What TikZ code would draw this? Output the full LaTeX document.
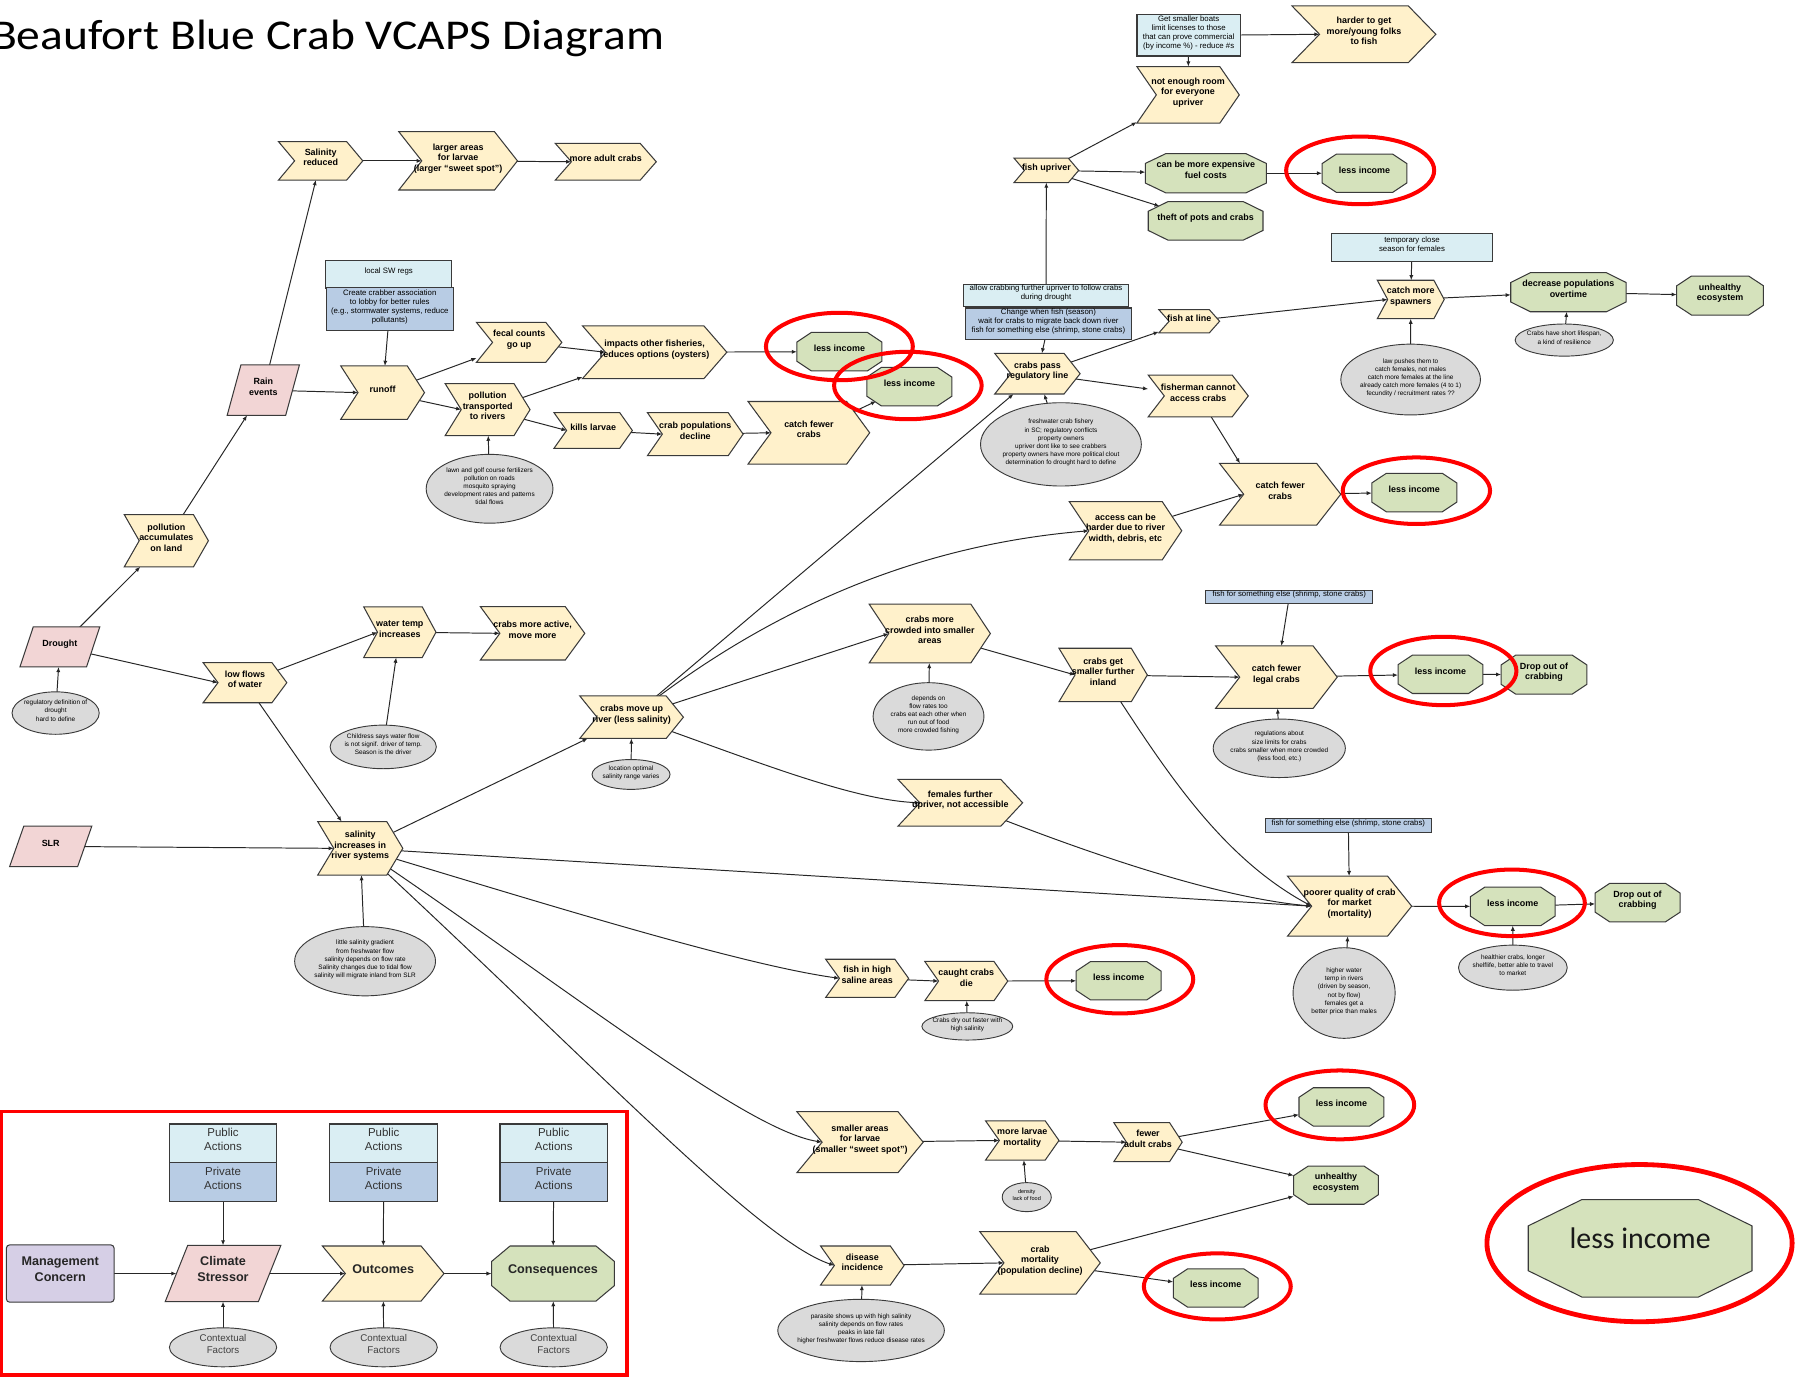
\documentclass[tikz,border=0pt]{standalone}
\usepackage{fontspec}
\setmainfont{Liberation Sans}
\newfontfamily\calib{Carlito}
\usetikzlibrary{arrows.meta,shapes.geometric}
\pgfdeclarelayer{bg}
\pgfdeclarelayer{lines}
\pgfdeclarelayer{shapes}
\pgfsetlayers{bg,lines,shapes,main}

\definecolor{chevfill}{HTML}{FFF1CB}
\definecolor{octfill}{HTML}{D5E2BC}
\definecolor{parafill}{HTML}{F2D5D5}
\definecolor{ellfill}{HTML}{DADADA}
\definecolor{pubfill}{HTML}{DAEEF3}
\definecolor{privfill}{HTML}{B8CCE4}
\definecolor{mcfill}{HTML}{D6CFE6}
\definecolor{edge}{HTML}{3A3A3A}
\definecolor{ringred}{HTML}{FF0000}

\newcommand{\mytx}[1]{\smash{\makebox[0pt]{\begin{tabular}{@{}c@{}}#1\end{tabular}}}}
\newcommand{\lgfont}{\fontsize{11}{13.9}\selectfont\bfseries}

\tikzset{
 shp/.style={draw=edge, line width=0.9pt, line join=miter},
 chevsty/.style={shp, fill=chevfill},
 octsty/.style={shp, fill=octfill},
 parasty/.style={shp, fill=parafill},
 lbl/.style={shape=rectangle, inner sep=0pt, outer sep=0pt, font=\fontsize{7.8}{9.2}\selectfont\bfseries},
 ell/.style={ellipse, draw=edge, line width=0.8pt, fill=ellfill, inner sep=0pt, outer sep=0pt, font=\fontsize{5.6}{7.1}\selectfont},
 pubbox/.style={rectangle, draw=edge, line width=0.9pt, fill=pubfill, inner sep=0pt, outer sep=0pt, font=\fontsize{6.8}{7.8}\selectfont},
 privbox/.style={pubbox, fill=privfill},
 conn/.style={draw=black!85, line width=0.85pt, -{Latex[length=4.5pt,width=3.6pt]}},
 ring/.style={draw=ringred, line width=3.5pt},
}

% chevron: [opts]{name}{x}{y}{w}{h}{d}{text}
\newcommand{\mychev}[8][]{%
 \begin{pgfonlayer}{shapes}
 \path[chevsty] ({#3-(#5)/2},{#4-(#6)/2}) -- ({#3+(#5)/2-(#7)},{#4-(#6)/2}) -- ({#3+(#5)/2},{#4}) -- ({#3+(#5)/2-(#7)},{#4+(#6)/2}) -- ({#3-(#5)/2},{#4+(#6)/2}) -- ({#3-(#5)/2+(#7)},{#4}) -- cycle;
 \end{pgfonlayer}
 \node[lbl, minimum width=#5, minimum height=#6, #1] (#2) at (#3,#4) {\mytx{#8}};
 \coordinate (#2-in) at ({#3-(#5)/2+(#7)},{#4});
}
% octagon: [opts]{name}{x}{y}{w}{h}{cx}{cy}{text}
\newcommand{\myocta}[9][]{%
 \begin{pgfonlayer}{shapes}
 \path[octsty] ({#3-(#5)/2+(#5)*(#7)},{#4-(#6)/2}) -- ({#3+(#5)/2-(#5)*(#7)},{#4-(#6)/2}) -- ({#3+(#5)/2},{#4-(#6)/2+(#6)*(#8)}) -- ({#3+(#5)/2},{#4+(#6)/2-(#6)*(#8)}) -- ({#3+(#5)/2-(#5)*(#7)},{#4+(#6)/2}) -- ({#3-(#5)/2+(#5)*(#7)},{#4+(#6)/2}) -- ({#3-(#5)/2},{#4+(#6)/2-(#6)*(#8)}) -- ({#3-(#5)/2},{#4-(#6)/2+(#6)*(#8)}) -- cycle;
 \end{pgfonlayer}
 \node[lbl, minimum width=#5, minimum height=#6, #1] (#2) at (#3,#4) {\mytx{#9}};
}
% parallelogram: [opts]{name}{x}{y}{w}{h}{s}{text}
\newcommand{\mypara}[8][]{%
 \begin{pgfonlayer}{shapes}
 \path[parasty] ({#3-(#5)/2},{#4+(#6)/2}) -- ({#3-(#5)/2+(#7)},{#4-(#6)/2}) -- ({#3+(#5)/2},{#4-(#6)/2}) -- ({#3+(#5)/2-(#7)},{#4+(#6)/2}) -- cycle;
 \end{pgfonlayer}
 \node[lbl, minimum width=#5, minimum height=#6, #1] (#2) at (#3,#4) {\mytx{#8}};
 \coordinate (#2-in) at ({#3-(#5)/2+(#7)/2},{#4});
}
\newcommand{\myli}[3]{\myocta{#1}{#2}{#3}{74}{33.5}{0.17}{0.25}{less income}}

\begin{document}
\begin{tikzpicture}[x=1pt,y=-1pt]
\useasboundingbox (0,0) rectangle (1568,1200);
\begin{pgfonlayer}{bg}
\fill[white] (0,0) rectangle (1568,1200);
\end{pgfonlayer}

% title
\node[anchor=base west, inner sep=0pt, font=\calib\fontsize{37}{40}\selectfont, xscale=1.12] (title) at (-8,43.5) {Beaufort Blue Crab VCAPS Diagram};

% ---------- top-left ----------
\mychev{salred}{279.5}{140.2}{73.4}{33.4}{14}{Salinity\\reduced}
\mychev{larger}{399.3}{140.2}{103.4}{50.8}{20}{larger areas\\for larvae\\(larger “sweet spot”)}
\mychev{moreadult}{528}{141}{88}{32}{14}{more adult crabs}
\mypara{rain}{229.5}{340}{63}{44}{12}{Rain\\events}
\mychev{polacc}{145}{471.3}{73.3}{45.4}{13}{pollution\\accumulates\\on land}
\mypara{drought}{52.2}{563.8}{69.6}{35}{11.6}{Drought}
\node[ell, minimum width=76, minimum height=37] (droughtell) at (48.5,621.5) {\mytx{regulatory definition of\\drought\\hard to define}};
\node[pubbox, minimum width=109.6, minimum height=24] (localsw) at (338.8,239) {\mytx{local SW regs}};
\node[privbox, minimum width=111, minimum height=36.7] (crabber) at (339.7,269.3) {\mytx{Create  crabber  association\\to lobby for better rules\\(e.g., stormwater systems, reduce\\pollutants)}};
\mychev{runoff}{333.5}{342.2}{73}{46.5}{15}{runoff}
\mychev{fecal}{452.5}{298.4}{74.4}{34.8}{14}{fecal counts\\go up}
\mychev{poltrans}{425}{357}{74}{45.3}{14}{pollution\\transported\\to rivers}
\node[ell, minimum width=110.5, minimum height=60] (lawnell) at (426.7,426) {\mytx{lawn and golf course fertilizers\\pollution on roads\\mosquito spraying\\development rates and patterns\\tidal flows}};
\mychev{impacts}{570.6}{307}{125.8}{46}{20}{impacts  other  fisheries,\\reduces options (oysters)}
\myli{li1}{731.6}{306.5}
\myli{li2}{792.6}{337}
\mychev{kills}{517}{375.2}{68.3}{31.1}{11}{kills larvae}
\mychev{croppop}{606}{378.4}{83.4}{37.5}{13}{crab populations\\decline}
\mychev{catch1}{705}{377.2}{106}{54.5}{20}{catch fewer\\crabs}

% ---------- middle-left ----------
\mychev{watertemp}{348.5}{551}{63}{44.2}{12}{water  temp\\increases}
\mychev{active}{464.2}{552}{91}{46.5}{17}{crabs more active,\\move more}
\node[ell, minimum width=92.6, minimum height=38] (childell) at (334,651) {\mytx{Childress says water flow\\is not signif. driver of temp.\\Season is the driver}};
\mychev{lowflows}{213.5}{595}{73}{35}{13}{low flows\\of water}
\mypara{slr}{44.2}{737.7}{71.7}{35.4}{12.4}{SLR}
\mychev{salinc}{314}{739.4}{74.2}{46.7}{14}{salinity\\increases in\\river systems}
\node[ell, minimum width=122.8, minimum height=60.3] (salell) at (318.2,837.8) {\mytx{little salinity gradient\\from freshwater flow\\salinity depends on flow rate\\Salinity changes due to tidal flow\\salinity will migrate inland from SLR}};
\mychev{movesup}{550.5}{625.1}{90.3}{37}{15}{crabs move up\\river (less salinity)}
\node[ell, minimum width=68, minimum height=26] (locell) at (550,675) {\mytx{location  optimal\\salinity range varies}};

% ---------- upper middle / right ----------
\mychev{pass}{904.2}{325.7}{74.4}{35.4}{14}{crabs pass\\regulatory line}
\node[pubbox, minimum width=144.5, minimum height=19.7] (allowbox) at (911.7,257.5) {\mytx{allow crabbing further upriver to follow crabs\\during drought}};
\node[privbox, minimum width=145, minimum height=27.5] (changebox) at (913.8,282.2) {\mytx{Change when fish (season)\\wait for crabs to migrate back down river\\fish for something else (shrimp, stone crabs)}};
\node[ell, minimum width=140.2, minimum height=72.6] (freshell) at (924.7,387.3) {\mytx{freshwater crab fishery\\in SC; regulatory conflicts\\property owners\\upriver dont like to see crabbers\\property owners have more political clout\\determination fo drought hard to define}};
\mychev{fishline}{1036.5}{280}{53}{20.3}{9}{fish at line}
\mychev{spawners}{1229.6}{261}{58.3}{33.5}{9}{catch more\\spawners}
\node[pubbox, minimum width=140, minimum height=24] (tempbox) at (1230.7,215.5) {\mytx{temporary  close\\season for females}};
\node[ell, minimum width=121.7, minimum height=61.7] (lawell) at (1229.5,330.8) {\mytx{law pushes them to\\catch females, not males\\catch more females at the line\\already catch more females (4 to 1)\\fecundity / recruitment rates ??}};
\myocta{decrease}{1367}{254.7}{100.5}{34}{0.17}{0.25}{decrease populations\\overtime}
\node[ell, minimum width=85.6, minimum height=28] (shortell) at (1363.4,296.4) {\mytx{Crabs have short lifespan,\\a kind of resilience}};
\myocta{unh1}{1499.2}{257.6}{75.6}{34}{0.17}{0.25}{unhealthy\\ecosystem}
\node[pubbox, minimum width=90, minimum height=35.8] (gsb) at (1036,30.9) {\mytx{Get smaller boats\\limit licenses to those\\that can prove commercial\\(by income \%) - reduce \#s}};
\mychev{harder}{1188.8}{29.9}{125.4}{49.4}{24}{harder to get\\more/young folks\\to fish}
\mychev{notenough}{1035.5}{82.7}{89.3}{49.4}{17}{not enough room\\for everyone\\upriver}
\mychev{fishup}{912}{148.5}{56.3}{21.2}{9}{fish upriver}
\myocta{fuel}{1051}{151}{105.4}{34.3}{0.17}{0.25}{can be more expensive\\fuel costs}
\myli{li3}{1189.3}{151}
\myocta{theft}{1050.8}{192.5}{100}{33.4}{0.17}{0.25}{theft of pots and crabs}
\mychev{fisherman}{1044.4}{345.1}{87.2}{36.3}{14}{fisherman cannot\\access crabs}
\mychev{catch2}{1115.8}{430.8}{105.6}{53.7}{21}{catch fewer\\crabs}
\myli{li4}{1232.7}{429.3}
\mychev{access}{981}{462.6}{98}{50.7}{17}{access can be\\harder due to river\\width, debris, etc}

% ---------- middle ----------
\mychev{crowded}{810.4}{552.2}{105.6}{51.2}{17}{crabs  more\\crowded into smaller\\areas}
\node[ell, minimum width=96.6, minimum height=58.8] (depell) at (809.3,624.4) {\mytx{depends  on\\flow rates too\\crabs eat each other when\\run out of food\\more crowded fishing}};
\mychev{getsmaller}{961.5}{588.3}{77}{46.6}{14}{crabs  get\\smaller further\\inland}
\node[privbox, minimum width=145.5, minimum height=11.7] (boxfs1) at (1123.7,520.2) {\mytx{fish for something else (shrimp, stone crabs)}};
\mychev{catchlegal}{1112.5}{590.2}{106}{54.4}{21}{catch fewer\\legal crabs}
\node[ell, minimum width=115.2, minimum height=51] (regell) at (1115,652.2) {\mytx{regulations about\\size limits for crabs\\crabs smaller when more crowded\\(less food, etc.)}};
\myli{li5}{1255.5}{587.7}
\myocta{drop1}{1345.7}{588}{74.6}{34}{0.17}{0.25}{Drop  out  of\\crabbing}
\mychev{females}{837}{699.7}{108.6}{40.7}{19}{females  further\\upriver, not accessible}
\node[privbox, minimum width=145, minimum height=12.5] (boxfs2) at (1175.2,719.6) {\mytx{fish for something else (shrimp, stone crabs)}};
\mychev{poorer}{1176.3}{789.8}{108.2}{52.3}{21}{poorer quality of crab\\for market\\(mortality)}
\node[ell, minimum width=89, minimum height=79] (higherell) at (1171.5,865.5) {\mytx{higher  water\\temp in rivers\\(driven by season,\\not by flow)\\females  get a\\better price than males}};
\myli{li6}{1318.5}{790}
\myocta{drop2}{1427.3}{786.7}{74}{33.4}{0.17}{0.25}{Drop  out  of\\crabbing}
\node[ell, minimum width=94.8, minimum height=39.3] (healthell) at (1318.6,843.4) {\mytx{healthier crabs, longer\\shelflife, better able to travel\\to market}};

% ---------- bottom ----------
\mychev{fishhigh}{755.8}{852.7}{72.3}{33.3}{12}{fish  in  high\\saline  areas}
\mychev{caught}{842.2}{855.1}{72.3}{34.2}{12}{caught crabs\\die}
\myli{li7}{975}{854.8}
\node[ell, minimum width=79.2, minimum height=23.8] (dryell) at (843.1,894.6) {\mytx{Crabs dry out faster with\\high salinity}};
\mychev{smaller}{749.6}{995.5}{110.1}{53.2}{22}{smaller areas\\for larvae\\(smaller “sweet spot”)}
\mychev{morelarvae}{891}{994}{64}{34.2}{12}{more  larvae\\mortality}
\node[ell, minimum width=42.8, minimum height=25.3, font=\fontsize{4.8}{6}\selectfont] (densell) at (894.9,1043.4) {\mytx{density\\lack of food}};
\mychev{fewer}{1000.6}{995.5}{59.6}{34}{11}{fewer\\adult crabs}
\myli{li8}{1169.2}{964.8}
\myocta{unh2}{1164.5}{1033}{73.9}{33.2}{0.17}{0.25}{unhealthy\\ecosystem}
\mychev{disease}{751.6}{1103}{72.8}{34}{12}{disease\\incidence}
\node[ell, minimum width=145.2, minimum height=54.3] (parell) at (750.5,1159.6) {\mytx{parasite shows up with high salinity\\salinity depends on flow rates\\peaks in late fall\\higher freshwater flows reduce disease rates}};
\mychev{crabmort}{906.5}{1100.7}{105}{54.3}{21}{crab\\mortality\\(population decline)}
\myli{li9}{1059.6}{1122.6}

% ---------- legend ----------
\node[rectangle, rounded corners=3pt, draw=edge, line width=0.9pt, fill=mcfill, minimum width=94, minimum height=50, inner sep=0pt, text=black!85, font=\lgfont] (mc) at (52.5,1110) {\mytx{Management\\Concern}};
\mypara[font=\lgfont, text=black!85]{cs}{194.4}{1110}{100.8}{49}{19.6}{Climate\\Stressor}
\mychev[font=\lgfont, text=black!85]{out}{334}{1110}{106}{48}{20}{Outcomes}
\myocta[font=\lgfont, text=black!85]{cons}{482}{1110}{107}{48}{0.15}{0.28}{Consequences}
\foreach \k/\xx in {1/194.4,2/334.4,3/482.6}{
 \node[pubbox, minimum width=93.6, minimum height=33.7, font=\fontsize{10}{12.2}\selectfont, text=black!80] (pub\k) at (\xx,996.5) {\mytx{Public\\Actions}};
 \node[privbox, minimum width=93.6, minimum height=34, font=\fontsize{10}{12.2}\selectfont, text=black!80] (priv\k) at (\xx,1030.4) {\mytx{Private\\Actions}};
 \node[ell, minimum width=93.5, minimum height=34, font=\fontsize{8.5}{10.7}\selectfont, text=black!75] (ctx\k) at (\xx,1174.3) {\mytx{Contextual\\Factors}};
}

% big legend octagon
\myocta[font=\calib\fontsize{26}{30}\selectfont, text=black!90]{bigli}{1429.5}{1088}{195}{85}{0.24}{0.27}{less income}

% ---------- connectors ----------
\begin{pgfonlayer}{lines}
\draw[conn] (salred.center) -- (larger-in);
\draw[conn] (larger.center) -- (moreadult-in);
\draw[conn] (rain.center) -- (salred);
\draw[conn] (polacc.center) -- (rain);
\draw[conn] (drought.center) -- (polacc);
\draw[conn] (drought.center) -- (lowflows-in);
\draw[conn] (droughtell.center) -- (drought);
\draw[conn] (crabber.center) -- (runoff);
\draw[conn] (rain.center) -- (runoff-in);
\draw[conn] (runoff.center) -- (fecal);
\draw[conn] (runoff.center) -- (poltrans-in);
\draw[conn] (lawnell.center) -- (poltrans);
\draw[conn] (fecal.center) -- (impacts-in);
\draw[conn] (poltrans.center) -- (impacts);
\draw[conn] (poltrans.center) -- (kills-in);
\draw[conn] (kills.center) -- (croppop-in);
\draw[conn] (croppop.center) -- (catch1-in);
\draw[conn] (impacts.center) -- (li1);
\draw[conn] (catch1.center) -- ([shift={(8pt,4pt)}]li2.south west);

\draw[conn] (lowflows.center) -- (watertemp-in);
\draw[conn] (watertemp.center) -- (active-in);
\draw[conn] (childell.center) -- (watertemp);
\draw[conn] (lowflows.center) -- (salinc);
\draw[conn] (slr.center) -- (salinc-in);
\draw[conn] (salell.center) -- (salinc);
\draw[conn] (salinc.center) -- (movesup);
\draw[conn] (salinc.center) -- (poorer-in);
\draw[conn] (salinc.center) .. controls (450,780) and (640,840) .. (fishhigh-in);
\draw[conn] (salinc.center) .. controls (500,865) and (650,985) .. (smaller-in);
\draw[conn] (salinc.center) .. controls (520,930) and (660,1080) .. (disease-in);

\draw[conn] (locell.center) -- (movesup);
\draw[conn] (movesup.center) -- (pass);
\draw[conn] (movesup.center) .. controls (670,530) and (800,475) .. (access-in);
\draw[conn] (movesup.center) -- (crowded-in);
\draw[conn] (movesup.center) .. controls (650,660) and (740,697) .. (females-in);
\draw[conn] (depell.center) -- (crowded);
\draw[conn] (crowded.center) -- (getsmaller-in);
\draw[conn] (getsmaller.center) -- (catchlegal-in);
\draw[conn] (getsmaller.center) .. controls (1010,662) and (1060,745) .. (poorer-in);
\draw[conn] (boxfs1.center) -- (catchlegal);
\draw[conn] (regell.center) -- (catchlegal);
\draw[conn] (catchlegal.center) -- (li5);
\draw[conn] (li5.center) -- (drop1);
\draw[conn] (females.center) .. controls (950,745) and (1060,782) .. (poorer-in);
\draw[conn] (boxfs2.center) -- (poorer);
\draw[conn] (higherell.center) -- (poorer);
\draw[conn] (poorer.center) -- (li6);
\draw[conn] (li6.center) -- (drop2);
\draw[conn] (healthell.center) -- (li6);

\draw[conn] (changebox.center) -- (pass);
\draw[conn] (allowbox.center) -- (fishup);
\draw[conn] (freshell.center) -- (pass);
\draw[conn] (pass.center) -- (fishline);
\draw[conn] (pass.center) -- (fisherman);
\draw[conn] (fisherman.center) -- ([xshift=-35pt]catch2.north);
\draw[conn] (access.center) -- (catch2-in);
\draw[conn] (catch2.center) -- (li4);
\draw[conn] (fishline.center) -- (spawners-in);
\draw[conn] (tempbox.center) -- (spawners);
\draw[conn] (lawell.center) -- (spawners);
\draw[conn] (spawners.center) -- (decrease);
\draw[conn] (shortell.center) -- (decrease);
\draw[conn] (decrease.center) -- (unh1);
\draw[conn] (gsb.center) -- (harder-in);
\draw[conn] (gsb.center) -- (notenough);
\draw[conn] (fishup.center) -- (notenough);
\draw[conn] (fishup.center) -- (fuel);
\draw[conn] (fishup.center) -- ([shift={(10pt,-4pt)}]theft.north west);
\draw[conn] (fuel.center) -- (li3);

\draw[conn] (fishhigh.center) -- (caught-in);
\draw[conn] (caught.center) -- (li7);
\draw[conn] (dryell.center) -- (caught);
\draw[conn] (smaller.center) -- (morelarvae-in);
\draw[conn] (morelarvae.center) -- (fewer-in);
\draw[conn] (densell.center) -- (morelarvae);
\draw[conn] (fewer.center) -- (li8);
\draw[conn] (fewer.center) -- (unh2);
\draw[conn] (disease.center) -- (crabmort-in);
\draw[conn] (parell.center) -- (disease);
\draw[conn] (crabmort.center) -- (unh2);
\draw[conn] (crabmort.center) -- (li9);

\draw[conn] (mc.center) -- (cs-in);
\draw[conn] (cs.center) -- (out-in);
\draw[conn] (out.center) -- (cons);
\draw[conn] (priv1.center) -- (cs);
\draw[conn] (priv2.center) -- (out);
\draw[conn] (priv3.center) -- (cons);
\draw[conn] (ctx1.center) -- (cs);
\draw[conn] (ctx2.center) -- (out);
\draw[conn] (ctx3.center) -- (cons);
\end{pgfonlayer}

% ---------- red rings ----------
\draw[ring] (731.6,302) ellipse [x radius=64pt, y radius=29.4pt];
\draw[ring] (791.3,336) ellipse [x radius=64.3pt, y radius=29.4pt];
\draw[ring] (1185.5,148.5) ellipse [x radius=64.5pt, y radius=29.5pt];
\draw[ring] (1234.5,427.7) ellipse [x radius=64.2pt, y radius=29pt];
\draw[ring] (1258,584.8) ellipse [x radius=63.7pt, y radius=29.8pt];
\draw[ring] (1317.8,786.9) ellipse [x radius=63.5pt, y radius=29pt];
\draw[ring] (976,853.5) ellipse [x radius=64pt, y radius=29.8pt];
\draw[ring] (1167.8,963) ellipse [x radius=64.8pt, y radius=30pt];
\draw[ring] (1061,1121.2) ellipse [x radius=64pt, y radius=28.8pt];
\draw[ring, line width=4.2pt] (1429,1083.5) ellipse [x radius=133pt, y radius=68.5pt];
\draw[draw=ringred, line width=3pt] (1.5,969) rectangle (546.5,1198.5);
\end{tikzpicture}
\end{document}
